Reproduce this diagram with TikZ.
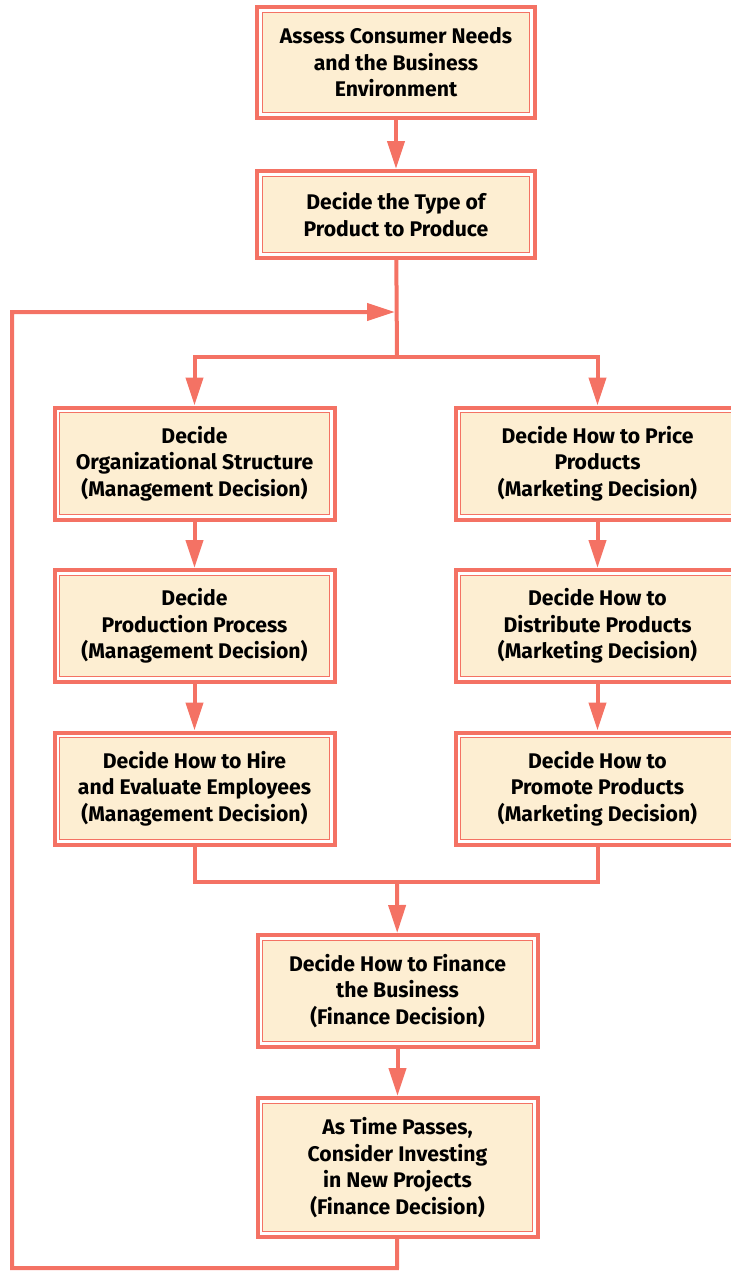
\documentclass[tikz,border=0pt]{standalone}
\usepackage{fontspec}
\setmainfont{Fira Sans}
\usetikzlibrary{arrows.meta}
\definecolor{linered}{HTML}{F47264}
\definecolor{boxfill}{HTML}{FDEED2}
\tikzset{
  decision/.style={rectangle, draw=linered, line width=2pt, fill=white,
    minimum width=140pt, minimum height=56pt, align=center,
    font=\fontsize{10.6}{13.3}\selectfont\bfseries, inner sep=0pt,
    path picture={\filldraw[fill=boxfill, draw=linered, line width=0.6pt]
      ([shift={(2.6pt,2.6pt)}]path picture bounding box.south west) rectangle
      ([shift={(-2.6pt,-2.6pt)}]path picture bounding box.north east);}},
  flow/.style={draw=linered, line width=2pt},
  tip/.style={-{Triangle[length=14pt, width=8.5pt]}}
}
\begin{document}
\begin{tikzpicture}[x=0.5pt, y=-0.5pt]
  \useasboundingbox (0,0) rectangle (731,1271);
  % top of the chart
  \node[decision, minimum width=139pt, minimum height=55.5pt] (assess) at (396,62.5)
    {Assess Consumer Needs\\and the Business\\Environment};
  \node[decision, minimum width=139pt, minimum height=43.5pt] (type) at (396,214.5)
    {Decide the Type of\\Product to Produce};
  % management column
  \node[decision] (org) at (194.5,463.5)
    {Decide\\Organizational Structure\\(Management Decision)};
  \node[decision] (prod) at (194.5,626)
    {Decide\\Production Process\\(Management Decision)};
  \node[decision] (hire) at (194.5,788.5)
    {Decide How to Hire\\and Evaluate Employees\\(Management Decision)};
  % marketing column
  \node[decision, minimum width=142pt] (price) at (597.5,463.5)
    {Decide How to Price\\Products\\(Marketing Decision)};
  \node[decision, minimum width=142pt] (dist) at (597.5,626)
    {Decide How to\\Distribute Products\\(Marketing Decision)};
  \node[decision, minimum width=142pt] (promo) at (597.5,788.5)
    {Decide How to\\Promote Products\\(Marketing Decision)};
  % finance
  \node[decision] (finance) at (397.5,991)
    {Decide How to Finance\\the Business\\(Finance Decision)};
  \node[decision, minimum height=69.5pt] (invest) at (397.5,1167.5)
    {As Time Passes,\\Consider Investing\\in New Projects\\(Finance Decision)};

  \coordinate (join) at (397,312);
  \coordinate (split) at (397,357);
  \coordinate (merge) at (397,882);
  \coordinate (back) at (397,1268);

  \draw[flow, tip] (assess) -- (type);
  \draw[flow] (type) -- (split);
  \draw[flow, tip] (split) -| (org);
  \draw[flow, tip] (split) -| (price);
  \draw[flow, tip] (org) -- (prod);
  \draw[flow, tip] (prod) -- (hire);
  \draw[flow, tip] (price) -- (dist);
  \draw[flow, tip] (dist) -- (promo);
  \draw[flow] (hire) |- (merge) -| (promo);
  \draw[flow, tip] (merge) -- (finance);
  \draw[flow, tip] (finance) -- (invest);
  % loop back
  \draw[flow, tip] (invest) -- (back) -| (12,312) -- ([xshift=-1pt]join);
\end{tikzpicture}
\end{document}
